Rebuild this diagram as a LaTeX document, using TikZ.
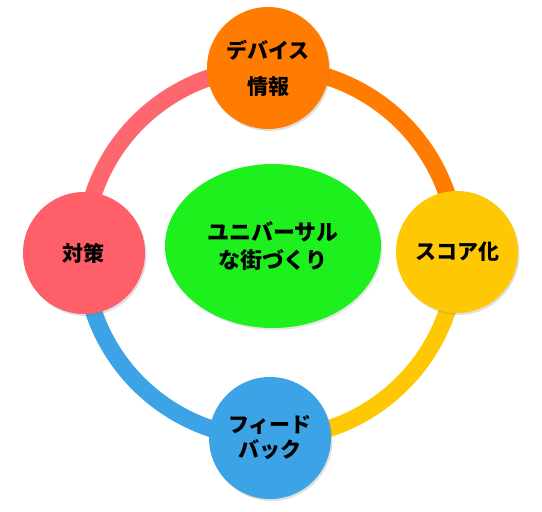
\documentclass[tikz,border=0pt]{standalone}
\usepackage{fontspec}
\newfontfamily\jp{Noto Sans CJK JP}
\usetikzlibrary{shadows,backgrounds,shapes.geometric}
\definecolor{cOrange}{HTML}{FF7C00}
\definecolor{cYellow}{HTML}{FFC805}
\definecolor{cBlue}{HTML}{3BA3E6}
\definecolor{cRed}{HTML}{FF5F68}
\definecolor{cGreen}{HTML}{1EF01E}
\tikzset{
  stage/.style={circle,minimum size=122pt,inner sep=0pt,align=center,
    font=\jp\bfseries\fontsize{21}{25}\selectfont,text=black,
    drop shadow={shadow xshift=1.5pt,shadow yshift=-2pt,opacity=0.25}},
  ring/.style={line width=17pt},
}
\begin{document}
\begin{tikzpicture}[x=1pt,y=1pt]
\useasboundingbox (0,0) rectangle (542,512);
\node[ellipse,minimum width=216pt,minimum height=164pt,inner sep=0pt,fill=cGreen,align=center,
  font=\jp\bfseries\fontsize{22}{28}\selectfont,
  drop shadow={shadow xshift=1.5pt,shadow yshift=-2pt,opacity=0.2}] (core) at (273,266) {ユニバーサル\\な街づくり};
\node[stage,fill=cOrange,font=\jp\bfseries\fontsize{21}{36}\selectfont] (dev) at (268,444) {デバイス\\情報};
\node[stage,fill=cYellow] (score) at (457,260) {スコア化};
\node[stage,fill=cBlue] (fb) at (270,74) {フィード\\バック};
\node[stage,fill=cRed] (act) at (84,259) {対策};
\begin{scope}[on background layer]
\draw[ring,cOrange] (dev.center) to[bend left=45] (score.center);
\draw[ring,cYellow] (score.center) to[bend left=45] (fb.center);
\draw[ring,cBlue] (fb.center) to[bend left=45] (act.center);
\draw[ring,cRed!95!white] (act.center) to[bend left=45] (dev.center);
\end{scope}
\end{tikzpicture}
\end{document}
